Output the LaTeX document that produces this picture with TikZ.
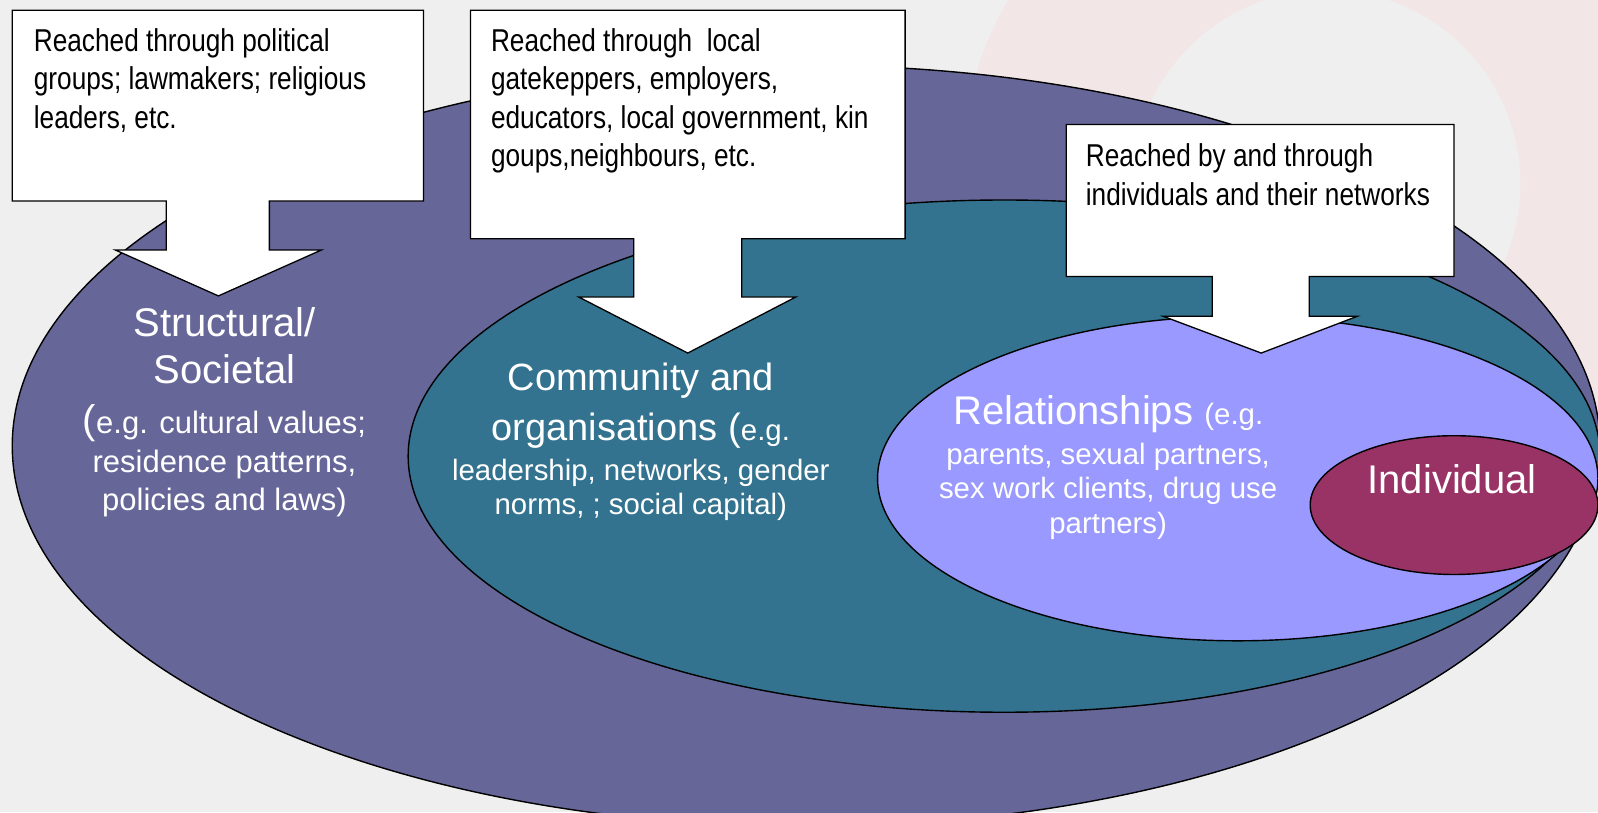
\documentclass[tikz,border=0pt]{standalone}
\usepackage{fontspec}
\setmainfont{Liberation Sans}
\newfontfamily\narrowfont[FakeStretch=0.83]{Liberation Sans}
\definecolor{bgc}{HTML}{EFEFEF}
\definecolor{pinkc}{HTML}{F2E6E6}
\definecolor{outerc}{HTML}{666699}
\definecolor{tealc}{HTML}{33738F}
\definecolor{relc}{HTML}{9999FF}
\definecolor{indc}{HTML}{993366}
\newcommand\fBigA{\fontsize{40}{46}\selectfont}
\newcommand\fBigB{\fontsize{38}{44}\selectfont}
\newcommand\fSmA{\fontsize{31}{37}\selectfont}
\newcommand\fSmB{\fontsize{29.4}{35}\selectfont}
\begin{document}
\begin{tikzpicture}[x=1.0204pt,y=-1.0204pt,
  ring/.style={draw=black,line width=1.4pt},
  callout/.style={draw=black,fill=white,line width=1.3pt,line join=miter},
  boxtext/.style={anchor=north west,inner sep=0pt,align=left,
    font=\narrowfont\fontsize{31.6}{38.3}\selectfont,text=black},
  lbl/.style={anchor=base,inner sep=0pt,text=white}]
\useasboundingbox (0,0) rectangle (1566.05,795.77);
\clip (0,0) rectangle (1566.05,795.77);
\fill[bgc] (0,0) rectangle (1566.05,795.77);
\fill[pinkc,even odd rule] (1300,180) circle[radius=360] (1300,180) circle[radius=190];
% nested ellipses
\filldraw[ring,fill=outerc] (790,437) ellipse[x radius=778,y radius=373];
\filldraw[ring,fill=tealc] (984,447) ellipse[x radius=584,y radius=251];
\filldraw[ring,fill=relc] (1213,469) ellipse[x radius=353,y radius=159];
\filldraw[ring,fill=indc] (1425,495) ellipse[x radius=141,y radius=68];
% callouts
\filldraw[callout] (12,10) -- (415,10) -- (415,197) -- (264,197) -- (264,245) -- (315,245)
  -- (214,290) -- (113,245) -- (163,245) -- (163,197) -- (12,197) -- cycle;
\filldraw[callout] (461,10) -- (887,10) -- (887,234) -- (727,234) -- (727,291) -- (780,291)
  -- (674,346) -- (567,291) -- (621,291) -- (621,234) -- (461,234) -- cycle;
\filldraw[callout] (1045,122) -- (1425,122) -- (1425,271) -- (1283,271) -- (1283,310) -- (1330,310)
  -- (1236,346) -- (1140,310) -- (1188,310) -- (1188,271) -- (1045,271) -- cycle;
\node[boxtext] (t1) at (33,28) {Reached through political\\groups; lawmakers; religious\\leaders, etc.};
\node[boxtext] (t2) at (481,28) {Reached through\ \ local\\gatekeppers, employers,\\educators, local government, kin\\goups,neighbours, etc.};
\node[boxtext] (t3) at (1064,141) {Reached by and through\\individuals and their networks};
% Structural
\node[lbl,font=\fBigA] (s1) at (220,330) {Structural/};
\node[lbl,font=\fBigA] (s2) at (220,376) {Societal};
\node[lbl] (s3) at (220,425) {\fBigA(\fSmA e.g. cultural values;};
\node[lbl,font=\fSmA] (s4) at (220,463) {residence patterns,};
\node[lbl,font=\fSmA] (s5) at (220,500) {policies and laws)};
% Community
\node[lbl,font=\fBigB] (c1) at (628,383) {Community and};
\node[lbl] (c2) at (628,432) {\fBigB organisations (\fSmB e.g.};
\node[lbl,font=\fSmB] (c3) at (628,471) {leadership, networks, gender};
\node[lbl,font=\fSmB] (c4) at (628,504) {norms, ; social capital)};
% Relationships
\node[lbl] (r1) at (1086,416) {\fontsize{40}{46}\selectfont Relationships \fSmB(e.g.};
\node[lbl,font=\fSmB] (r2) at (1086,455) {parents, sexual partners,};
\node[lbl,font=\fSmB] (r3) at (1086,489) {sex work clients, drug use};
\node[lbl,font=\fSmB] (r4) at (1086,523) {partners)};
% Individual
\node[lbl,font=\fBigA] (i1) at (1423,484) {Individual};
\end{tikzpicture}
\end{document}
